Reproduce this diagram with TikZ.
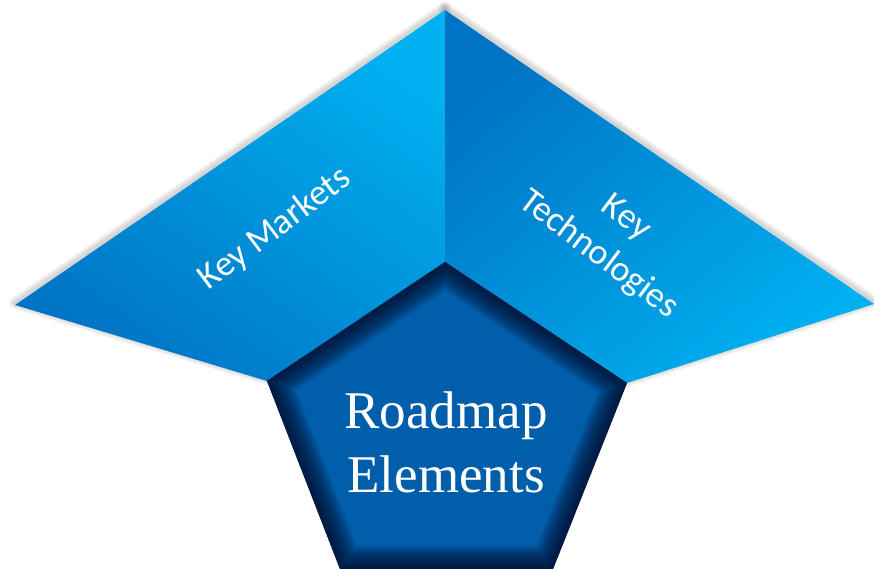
\documentclass[tikz,border=0pt]{standalone}
\usepackage{fontspec}
\setmainfont{Liberation Serif}
\newfontfamily\wingfont{Carlito}
\definecolor{wingdark}{RGB}{0,116,196}
\definecolor{winglight}{RGB}{0,176,240}
\definecolor{pentmid}{RGB}{0,94,170}
\definecolor{pentedge}{RGB}{0,14,44}
\begin{document}
\begin{tikzpicture}[x=1pt,y=-1pt,
    glow/.style={draw=black,line join=round,opacity=0.045},
    wing/.style={line join=round}]
\tikzset{every node/.style={text=white,align=center,inner sep=0pt}}
\useasboundingbox (0,0) rectangle (874,569);
% corners
\coordinate (apex) at (445,10);
\coordinate (ltip) at (15,305);
\coordinate (lfoot) at (267,381);
\coordinate (ptop) at (445,262);
\coordinate (rtip) at (874,304);
\coordinate (rfoot) at (627,383);
\coordinate (pbl) at (340,569);
\coordinate (pbr) at (553,569);
% soft shadow round the wings
\foreach \w in {12,9,6,3} {
    \draw[glow,line width=\w pt] ([yshift=2pt]apex) -- ([yshift=2pt]ltip) -- ([yshift=2pt]lfoot) -- ([yshift=2pt]ptop) -- cycle;
    \draw[glow,line width=\w pt] ([yshift=2pt]apex) -- ([yshift=2pt]rtip) -- ([yshift=2pt]rfoot) -- ([yshift=2pt]ptop) -- cycle;
}
% wings
\shade[wing,top color=winglight,bottom color=wingdark,shading angle=-35]
    (apex) -- (ltip) -- (lfoot) -- (ptop) -- cycle;
\shade[wing,top color=wingdark,bottom color=winglight,shading angle=40]
    (apex) -- (rtip) -- (rfoot) -- (ptop) -- cycle;
% pentagon with inner glow
\fill[pentmid] (ptop) -- (lfoot) -- (pbl) -- (pbr) -- (rfoot) -- cycle;
\begin{scope}
    \clip (ptop) -- (lfoot) -- (pbl) -- (pbr) -- (rfoot) -- cycle;
    \foreach \w in {2,4,...,48} {
        \draw[pentedge,line width=\w pt,opacity=0.06,line join=round]
            (ptop) -- (lfoot) -- (pbl) -- (pbr) -- (rfoot) -- cycle;
    }
\end{scope}
% labels
\node (markets) at (275,229) [rotate=37,font=\wingfont\fontsize{36}{44}\selectfont] {Key Markets};
\node (techs) at (612,237) [rotate=-37,font=\wingfont\fontsize{36}{46}\selectfont] {Key\\Technologies};
\node (roadmap) at (446,442) [font=\fontsize{53}{64}\selectfont] {Roadmap\\Elements};
\end{tikzpicture}
\end{document}
